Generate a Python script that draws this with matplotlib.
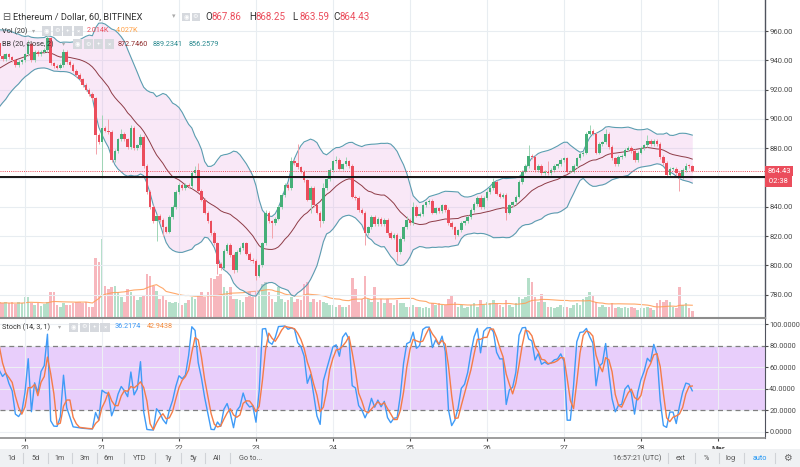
import matplotlib
matplotlib.use("Agg")
import matplotlib.pyplot as plt
import matplotlib.transforms as mtransforms
from matplotlib.patches import Rectangle
import numpy as np
import pandas as pd

plt.rcParams["font.family"] = ["Roboto", "DejaVu Sans"]

# hourly closes / volumes before the first visible candle (they only feed the indicators)
pre_close = [912, 915, 918, 916, 920, 922, 925, 924, 928, 931,
             930, 934, 938, 942, 945, 948, 950, 953, 957, 952]
pre_volume = [4.5, 5, 4, 6, 5.5, 4, 5, 4.5, 5, 3.5,
              4, 5, 4.5, 5, 6, 4, 3.5, 4.5, 5, 4.5]

# visible hourly candles, Feb 19 16:00 -> Feb 28 16:00 UTC
close = [
    943, 941, 944, 942, 940, 937, 939, 940, 944, 951,
    940, 946, 944, 946, 947, 955, 938, 936, 935, 937,
    946, 939, 937, 933, 930, 927, 923, 920, 917, 914,
    889, 884, 894, 892, 891, 872, 878, 886, 890, 886,
    881, 894, 880, 882, 888, 868, 850, 840, 830, 834,
    831, 826, 823, 833, 840, 850, 855, 853, 855, 854,
    863, 865, 851, 845, 836, 830, 822, 815, 801, 798,
    810, 814, 807, 797, 809, 812, 815, 808, 804, 803,
    793, 800, 815, 836, 830, 829, 832, 840, 848, 855,
    853, 871, 870, 867, 864, 858, 845, 853, 841, 836,
    830, 853, 859, 865, 871, 872, 866, 869, 871, 868,
    847, 846, 838, 836, 822, 826, 833, 828, 832, 828,
    831, 822, 819, 821, 809, 818, 826, 831, 829, 840,
    834, 835, 841, 843, 844, 836, 839, 837, 841, 838,
    829, 826, 821, 824, 829, 830, 833, 838, 842, 846,
    840, 846, 850, 853, 857, 849, 847, 848, 836, 841,
    843, 847, 857, 864, 868, 875, 874, 865, 868, 863,
    864, 863, 865, 868, 869, 872, 873, 864, 864, 868,
    873, 876, 877, 890, 892, 890, 877, 883, 884, 890,
    881, 873, 869, 874, 875, 879, 880, 878, 872, 877,
    880, 882, 885, 883, 885, 883, 874, 870, 862, 866,
    866, 863, 860, 865, 868.2, 867.86, 864.43,
]
volume = [  # thousands
    5, 4.5, 5, 4.8, 5, 4.2, 5, 4.5, 6.5, 6.5,
    4.5, 4, 4.5, 3.8, 4.2, 5, 8, 8, 4, 3.5,
    4.5, 4, 4, 4.5, 5, 5, 4.5, 5, 3.5, 3.5,
    18.5, 17.5, 24.5, 10, 9, 9.5, 10, 8, 6.5, 5,
    9, 8, 7, 5.5, 6.5, 7, 13.5, 13, 10, 8.5,
    6, 7, 5.5, 5, 4.5, 5, 4.5, 4, 4.5, 5.5,
    6.5, 6, 7, 8, 6.5, 8, 12.5, 12, 13, 13.5,
    9.5, 8.5, 9.5, 6, 6, 5.5, 5, 6.5, 8, 6.5,
    8, 8, 10.5, 11, 8, 6, 5, 9.5, 6, 5,
    5.5, 6.5, 5, 6, 5.5, 10.5, 11, 5, 6, 5,
    5.5, 5, 4.5, 4, 4, 3.5, 4, 3.5, 3.5, 4,
    12.5, 9, 5, 6, 13, 6, 5, 9.5, 5, 6,
    4.5, 6, 4.5, 4, 5.5, 4.5, 4.5, 3.5, 3.5, 4,
    3.5, 3.5, 3, 3.5, 3, 4.5, 4, 4.5, 4, 4,
    6, 7, 5, 3.5, 4, 3, 3.5, 4, 4.5, 3.5,
    5.5, 4, 5, 4.5, 5.5, 4.5, 4, 3.5, 5.5, 4,
    3.5, 4.5, 6.5, 6, 6.5, 12.5, 11, 6.5, 5, 7.5,
    5, 3.5, 3.5, 3, 3.5, 4, 3.5, 3.5, 3, 4,
    4.5, 4, 6, 6.5, 8, 7, 5, 3.5, 4, 3.5,
    3.5, 4.5, 3, 3.5, 3, 3.5, 3, 3.5, 3, 2.5,
    3, 3, 3.5, 3, 2.5, 4.5, 5.5, 5, 5.5, 5,
    3.5, 3, 9.5, 4, 4.5, 3, 2.014,
]
# long wicks that stand out (candle index -> price)
wick_high = {9: 954, 15: 957, 20: 948, 32: 903, 34: 900, 38: 893, 41: 896, 44: 890,
             61: 868, 62: 870, 83: 838, 91: 874, 93: 883, 101: 856, 105: 875, 108: 874,
             127: 834, 129: 843, 150: 848, 154: 860, 165: 882, 171: 871, 184: 896,
             189: 893, 202: 889, 214: 870, 216: 868.25}
wick_low = {30: 876, 32: 860, 49: 817, 51: 820, 68: 794, 73: 795, 80: 790, 85: 819,
            97: 836, 100: 826, 114: 814, 124: 803, 142: 818, 158: 831, 212: 851,
            216: 863.59}

day_labels = ["20", "21", "22", "23", "24", "25", "26", "27", "28", "Mar"]
price_ticks = [780, 800, 820, 840, 860, 880, 900, 920, 940, 960]
stoch_ticks = [0, 20, 40, 60, 80, 100]
last_price = 864.43
support = 860.2

UP, DOWN = "#45AF78", "#EB4D5C"
UP_W, DOWN_W = "#9ED5B5", "#F3A2AA"
GRID = "#E8EDF1"
W, H = 800, 467

# ---- build candles and indicators
n_pre = len(pre_close)
pos = np.arange(-n_pre, len(close))
df = pd.DataFrame({"close": pre_close + close, "volume": pre_volume + volume}, index=pos)
df["open"] = df["close"].shift(1).fillna(df["close"].iloc[0] - 2)
df["high"] = df[["open", "close"]].max(axis=1) + 1.2
df["low"] = df[["open", "close"]].min(axis=1) - 1.2
for i, val in wick_high.items():
    df.loc[i, "high"] = val
for i, val in wick_low.items():
    df.loc[i, "low"] = val

df["basis"] = df["close"].rolling(20).mean()
sd = df["close"].rolling(20).std(ddof=0)
df["upper"] = df["basis"] + 2 * sd
df["lower"] = df["basis"] - 2 * sd
df["vol_ma"] = df["volume"].rolling(20).mean()
hh = df["high"].rolling(14).max()
ll = df["low"].rolling(14).min()
df["k"] = 100 * (df["close"] - ll) / (hh - ll)
df["d"] = df["k"].rolling(3).mean()

v = df.loc[0:]
x = v.index.values
up = (v["close"] >= v["open"]).values
body_lo = v[["open", "close"]].min(axis=1).values
body_h = np.maximum((v["close"] - v["open"]).abs().values, 0.5)

fig = plt.figure(figsize=(8, 4.67), dpi=100, facecolor="white")
xlim = (0.206, 238.67)
main_rect = [0, 149 / H, 765 / W, 318 / H]

# volume underlay
axv = fig.add_axes(main_rect, zorder=0)
axv.set_xlim(*xlim)
axv.set_ylim(0, 98.5)
axv.bar(x, v["volume"], width=0.8, color=np.where(up, UP, DOWN), alpha=0.4, linewidth=0)
axv.plot(x, v["vol_ma"], color="#FF9F5A", lw=0.8, alpha=0.9)
axv.axis("off")

# price pane
ax = fig.add_axes(main_rect, zorder=1)
ax.patch.set_visible(False)
ax.set_xlim(*xlim)
ax.set_ylim(764.1, 981.2)
ax.set_axisbelow(True)
ax.grid(True, color=GRID, lw=0.8)
ax.fill_between(x, v["lower"], v["upper"], color="#E9A6E3", alpha=0.25, lw=0, zorder=1)
ax.plot(x, v["upper"], color="#5B9DB0", lw=0.8, zorder=2)
ax.plot(x, v["lower"], color="#5B9DB0", lw=0.8, zorder=2)
ax.plot(x, v["basis"], color="#8E3B46", lw=0.7, zorder=2)
ax.vlines(x, v["low"], v["high"], colors=np.where(up, UP_W, DOWN_W), lw=0.7, zorder=2.5)
ax.bar(x, body_h, bottom=body_lo, width=0.8, color=np.where(up, UP, DOWN), linewidth=0, zorder=3)
ax.axhline(last_price, color=DOWN, lw=0.7, ls=(0, (1, 1.2)), zorder=4)
ax.axhline(support, color="#151515", lw=1.4, zorder=4)

day_pos = [8 + 24 * k for k in range(len(day_labels))]
ax.set_xticks(day_pos)
ax.set_yticks(price_ticks)
ax.set_yticklabels([f"{p:.2f}" for p in price_ticks])
ax.tick_params(axis="x", bottom=False, labelbottom=False)
ax.tick_params(axis="y", left=False, labelleft=False, right=True, labelright=True,
               length=2, pad=1.5, labelsize=5.5, colors="#4a4a4a")
for s in ("top", "left"):
    ax.spines[s].set_visible(False)
ax.spines["right"].set_color("#50535E")
ax.spines["right"].set_linewidth(1.0)
ax.spines["bottom"].set_color("#8C8C8C")
ax.spines["bottom"].set_linewidth(1.5)

blend = mtransforms.blended_transform_factory(ax.transAxes, ax.transData)
ax.text(1.003, last_price, "864.43", transform=blend, fontsize=5.5, color="white",
        va="center", ha="left", clip_on=False, zorder=10,
        bbox=dict(boxstyle="square,pad=0.3", fc=DOWN, ec="none"))
ax.text(1.003, 857.4, " 02:38 ", transform=blend, fontsize=5.5, color="white",
        va="center", ha="left", clip_on=False, zorder=10,
        bbox=dict(boxstyle="square,pad=0.3", fc=DOWN, ec="none"))

# stochastic pane
axs = fig.add_axes([0, 29 / H, 765 / W, 120 / H])
axs.set_xlim(*xlim)
axs.set_ylim(-5.6, 105.6)
axs.axhspan(20, 80, color="#E8CEFB", lw=0, zorder=1)
axs.set_axisbelow("line")
axs.set_xticks(day_pos)
axs.set_yticks(stoch_ticks)
axs.grid(True, color="#ECEFF3", lw=0.8)
for lvl in (20, 80):
    axs.axhline(lvl, color="#808080", lw=0.9, ls=(0, (4, 3)), zorder=2)
axs.plot(x, v["k"], color="#3F9BF7", lw=1.0, zorder=3)
axs.plot(x, v["d"], color="#F47C48", lw=1.0, zorder=3)
axs.set_yticklabels([f"{t:.4f}" for t in stoch_ticks])
axs.set_xticklabels(day_labels)
axs.get_xticklabels()[-1].set_fontweight("bold")
axs.tick_params(axis="y", left=False, labelleft=False, right=True, labelright=True,
                length=2, pad=1, labelsize=5.3, colors="#4a4a4a")
axs.tick_params(axis="x", length=2, pad=3, labelsize=5.5, colors="#4a4a4a")
for s in ("top", "left"):
    axs.spines[s].set_visible(False)
axs.spines["right"].set_color("#50535E")
axs.spines["bottom"].set_color("#8C8C8C")
axs.spines["bottom"].set_linewidth(1.2)


def px_text(px, py, s, color="#333333", size=5.2, ha="left", weight="normal"):
    fig.text(px / W, 1 - py / H, s, color=color, fontsize=size, ha=ha, va="center",
             fontweight=weight)


def icon_boxes(px, py, glyphs, size=9):
    for k, g in enumerate(glyphs):
        x0 = px + k * (size + 1.5)
        fig.patches.append(Rectangle((x0 / W, 1 - (py + size / 2) / H), size / W, size / H,
                                     transform=fig.transFigure, fc="#D6D9DE", ec="none"))
        px_text(x0 + size / 2, py, g, color="white", size=4.5, ha="center")


# legends
px_text(2, 17, "⊟", color="#555555", size=7)
px_text(13, 17, "Ethereum / Dollar, 60, BITFINEX", color="#333333", size=6.7)
px_text(172, 17, "▾", color="#AAAAAA", size=5)
icon_boxes(182, 17, ["◉", "⚙"], size=8)
for lbl, num, px in (("O", "867.86", 205), ("H", "868.25", 249), ("L", "863.59", 292), ("C", "864.43", 333)):
    px_text(px, 17, lbl, color="#333333", size=7)
    px_text(px + 7, 17, num, color=DOWN, size=7)

px_text(2, 31, "Vol (20)", size=5.2)
px_text(32, 31, "▾", color="#AAAAAA", size=4.5)
icon_boxes(42, 31, ["◉", "⚙", "+", "×"])
px_text(87, 31, "2.014K", color=DOWN, size=5.2)
px_text(116, 31, "4.027K", color="#FF9F43", size=5.2)

px_text(2, 44, "BB (20, close, 2)", size=5.2)
px_text(62, 44, "▾", color="#AAAAAA", size=4.5)
icon_boxes(73, 44, ["◉", "⚙", "+", "×"])
px_text(118, 44, "872.7460", color="#8E2A2A", size=5.2)
px_text(153, 44, "889.2341", color="#2A8A8F", size=5.2)
px_text(189, 44, "856.2579", color="#2A8A8F", size=5.2)

px_text(2, 327, "Stoch (14, 3, 1)", size=5.2)
px_text(58, 327, "▾", color="#AAAAAA", size=4.5)
icon_boxes(69, 327, ["◉", "⚙", "+", "×"])
px_text(115, 327, "36.2174", color="#3B97F5", size=5.2)
px_text(147, 327, "42.9438", color="#F58B3C", size=5.2)

# bottom toolbar
fig.patches.append(Rectangle((0, 0), 1, 18 / H, transform=fig.transFigure, fc="#EFF1F3", ec="none"))
for s, px in (("1d", 11), ("5d", 36), ("1m", 60), ("3m", 85), ("6m", 109), ("YTD", 140),
              ("1y", 168), ("5y", 193), ("All", 217), ("Go to...", 251)):
    px_text(px, 458, s, color="#555555", size=5.2, ha="center")
for s, px, col in (("16:57:21 (UTC)", 637, "#555555"), ("ext", 681, "#555555"), ("%", 706, "#555555"),
                   ("log", 731, "#555555"), ("auto", 760, "#2196F3"), ("⚙", 787, "#666666")):
    px_text(px, 458, s, color=col, size=5.2 if s != "⚙" else 7, ha="center")
for px in (23, 48, 72, 97, 124, 155, 181, 205, 230, 668, 695, 719, 744, 775):
    fig.add_artist(plt.Line2D([px / W, px / W], [4 / H, 14 / H], color="#D0D3D7", lw=0.8))

fig.savefig("out.png", dpi=100, facecolor="white")
